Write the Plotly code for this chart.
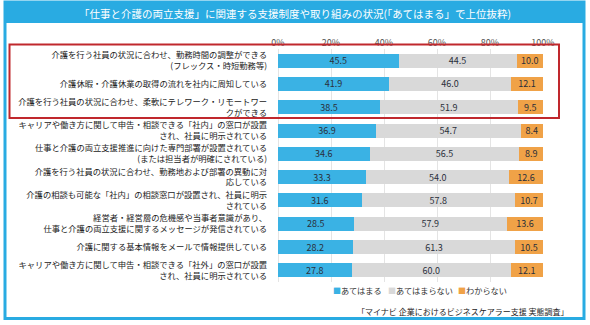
import plotly.graph_objects as go

# Survey items (top-ranked by "あてはまる")
categories = [
    "介護を行う社員の状況に合わせ、勤務時間の調整ができる<br>(フレックス・時短勤務等)",
    "介護休暇・介護休業の取得の流れを社内に周知している",
    "介護を行う社員の状況に合わせ、柔軟にテレワーク・リモートワー<br>クができる",
    "キャリアや働き方に関して申告・相談できる「社内」の窓口が設置<br>され、社員に明示されている",
    "仕事と介護の両立支援推進に向けた専門部署が設置されている<br>(または担当者が明確にされている)",
    "介護を行う社員の状況に合わせ、勤務地および部署の異動に対<br>応している",
    "介護の相談も可能な「社内」の相談窓口が設置され、社員に明示<br>されている",
    "経営者・経営層の危機感や当事者意識があり、<br>仕事と介護の両立支援に関するメッセージが発信されている",
    "介護に関する基本情報をメールで情報提供している",
    "キャリアや働き方に関して申告・相談できる「社外」の窓口が設置<br>され、社員に明示されている",
]

applies = [45.5, 41.9, 38.5, 36.9, 34.6, 33.3, 31.6, 28.5, 28.2, 27.8]
not_applies = [44.5, 46.0, 51.9, 54.7, 56.5, 54.0, 57.8, 57.9, 61.3, 60.0]
unknown = [10.0, 12.1, 9.5, 8.4, 8.9, 12.6, 10.7, 13.6, 10.5, 12.1]

series_names = ["あてはまる", "あてはまらない", "わからない"]
series_values = [applies, not_applies, unknown]
series_colors = ["#3AB2E4", "#D9D9D9", "#F0A247"]

x_ticks = [0, 20, 40, 60, 80, 100]

title_text = "「仕事と介護の両立支援」に関連する支援制度や取り組みの状況(「あてはまる」で上位抜粋)"
source_text = "「マイナビ 企業におけるビジネスケアラー支援 実態調査」"

FONT = "Noto Sans CJK JP, Noto Sans, sans-serif"
W, H = 590, 325
L, R, T, B = 278, 47, 49, 43
PW, PH = W - L - R, H - T - B


def px(x):
    return (x - L) / PW


def py(y):
    return (H - B - y) / PH


fig = go.Figure()
for name, vals, color in zip(series_names, series_values, series_colors):
    fig.add_trace(go.Bar(
        y=categories, x=vals, name=name, orientation="h",
        marker=dict(color=color, line=dict(width=0)),
        width=0.6,
        text=[f"{v:.1f}" for v in vals],
        textposition="inside", insidetextanchor="middle", textangle=0,
        textfont=dict(family=FONT, size=9, color="#2a2f3a"),
        constraintext="none",
        showlegend=False, hoverinfo="skip",
    ))

shapes = [
    # banner
    dict(type="rect", xref="paper", yref="paper",
         x0=px(4), x1=px(585), y0=py(1), y1=py(23),
         fillcolor="#29ABE2", line=dict(width=0), layer="below"),
    # outer frame
    dict(type="rect", xref="paper", yref="paper",
         x0=px(5), x1=px(584), y0=py(2), y1=py(318.5),
         line=dict(color="#29ABE2", width=3), fillcolor="rgba(0,0,0,0)"),
    # highlight box around the first three items
    dict(type="rect", xref="paper", yref="paper",
         x0=px(9.5), x1=px(559), y0=py(44.5), y1=py(118),
         line=dict(color="#C0282D", width=2), fillcolor="rgba(0,0,0,0)"),
]

annotations = [
    dict(text=title_text, xref="paper", yref="paper", x=px(295), y=py(13.5),
         xanchor="center", yanchor="middle", showarrow=False,
         font=dict(family=FONT, size=10.5, color="white")),
    dict(text=source_text, xref="paper", yref="paper", x=px(570), y=py(311),
         xanchor="right", yanchor="middle", showarrow=False,
         font=dict(family=FONT, size=8, color="#222")),
]

legend_x = [331, 386, 456]
for name, color, lx in zip(series_names, series_colors, legend_x):
    annotations.append(dict(
        text=f'<span style="color:{color};font-size:8px">■</span>{name}',
        xref="paper", yref="paper", x=px(lx), y=py(290),
        xanchor="left", yanchor="middle", showarrow=False,
        font=dict(family=FONT, size=8.2, color="#333")))

fig.update_layout(
    width=W, height=H,
    margin=dict(l=L, r=R, t=T, b=B, pad=0),
    barmode="stack", bargap=0.4,
    paper_bgcolor="white", plot_bgcolor="white",
    font=dict(family=FONT, size=9, color="#333"),
    xaxis=dict(range=[0, 100], side="top", tickvals=x_ticks,
               ticktext=[f"{v}%" for v in x_ticks],
               showgrid=True, gridcolor="#E4E4E4", gridwidth=1,
               zeroline=True, zerolinecolor="#E4E4E4", zerolinewidth=1,
               showline=False, ticks="", fixedrange=True,
               tickfont=dict(family=FONT, size=9, color="#555")),
    yaxis=dict(autorange="reversed", categoryorder="array",
               categoryarray=categories, showgrid=False, zeroline=False,
               ticks="", ticklabelstandoff=10,
               tickfont=dict(family=FONT, size=8.3, color="#222")),
    shapes=shapes, annotations=annotations,
)

fig.write_html("out.html")
